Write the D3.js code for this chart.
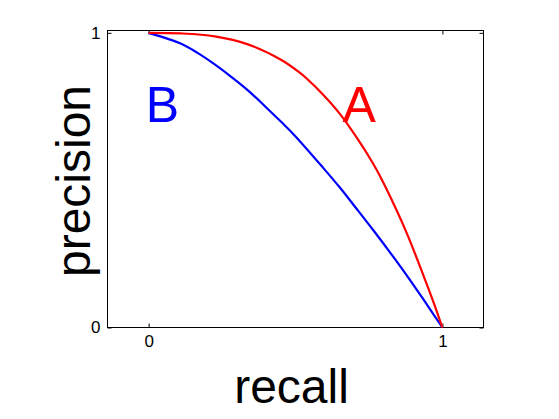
<!DOCTYPE html>
<html><head><meta charset="utf-8">
<script src="https://cdn.jsdelivr.net/npm/d3@7"></script>
<style>body{margin:0;background:#fff;} svg{display:block;} text{font-family:"Liberation Sans",Arial,sans-serif;}</style>
</head><body>
<svg id="c" width="559" height="419"></svg>
<script>
const recallA = [0, 0.111, 0.225, 0.338, 0.452, 0.509, 0.538, 0.595, 0.651, 0.708, 0.765, 0.787, 0.821, 0.878, 0.935, 0.969, 1.0];
const precisionA = [1.0, 0.998, 0.988, 0.961, 0.908, 0.869, 0.845, 0.789, 0.725, 0.645, 0.555, 0.515, 0.447, 0.322, 0.178, 0.088, 0];
const recallB = [0, 0.111, 0.168, 0.225, 0.281, 0.338, 0.395, 0.451, 0.497, 0.595, 0.651, 0.708, 0.765, 0.821, 0.878, 0.935, 1.0];
const precisionB = [1.0, 0.963, 0.931, 0.893, 0.851, 0.805, 0.752, 0.698, 0.652, 0.541, 0.475, 0.403, 0.330, 0.256, 0.178, 0.096, 0];
const xTicks = [0, 1];
const yTicks = [0, 1];
const seriesNames = ["A", "B"];

const svg = d3.select("#c");
const L = 107.5, R = 483.5, T = 30.5, B = 327.5;
const x = d3.scaleLinear().domain([-0.14, 1.14]).range([L, R]);
const y = d3.scaleLinear().domain([0, 1.008]).range([B, T]);

svg.append("rect").attr("x", L).attr("y", T).attr("width", R - L).attr("height", B - T)
  .attr("fill", "none").attr("stroke", "#000").attr("stroke-width", 1);

const tl = 4;
const axB = d3.axisBottom(x).tickValues(xTicks).tickSize(-tl).tickPadding(7).tickFormat(d3.format("d"));
const axT = d3.axisTop(x).tickValues(xTicks).tickSize(-tl).tickFormat("");
const axL = d3.axisLeft(y).tickValues(yTicks).tickSize(-tl).tickPadding(7).tickFormat(d3.format("d"));
const axR = d3.axisRight(y).tickValues(yTicks).tickSize(-tl).tickFormat("");
function style(g){ g.select(".domain").remove(); g.selectAll("text").attr("font-size", 17).attr("fill", "#000").style("font-family","Liberation Sans, Arial, sans-serif"); g.selectAll("line").attr("stroke","#000"); }
svg.append("g").attr("transform", `translate(0,${B})`).call(axB).call(style);
svg.append("g").attr("transform", `translate(0,${T})`).call(axT).call(style);
svg.append("g").attr("transform", `translate(${L},0)`).call(axL).call(style);
svg.append("g").attr("transform", `translate(${R},0)`).call(axR).call(style);

const line = d3.line().x(d => x(d[0])).y(d => y(d[1])).curve(d3.curveCatmullRom.alpha(0.5));
svg.append("path").datum(recallB.map((r, i) => [r, precisionB[i]]))
  .attr("d", line).attr("fill", "none").attr("stroke", "#0000ff").attr("stroke-width", 2.2);
svg.append("path").datum(recallA.map((r, i) => [r, precisionA[i]]))
  .attr("d", line).attr("fill", "none").attr("stroke", "#ff0000").attr("stroke-width", 2.2);

svg.append("text").attr("x", x(0.66)).attr("y", 122).attr("font-size", 50).attr("fill", "#ff0000").text(seriesNames[0]);
svg.append("text").attr("x", x(-0.01)).attr("y", 122).attr("font-size", 50).attr("fill", "#0000ff").text(seriesNames[1]);

svg.append("text").attr("x", (L + R) / 2 - 4).attr("y", 403).attr("text-anchor", "middle")
  .attr("font-size", 48).attr("fill", "#000").text("recall");
svg.append("text").attr("transform", `translate(90,${(T + B) / 2 + 2}) rotate(-90)`).attr("text-anchor", "middle")
  .attr("font-size", 48).attr("fill", "#000").text("precision");
</script>
</body></html>
